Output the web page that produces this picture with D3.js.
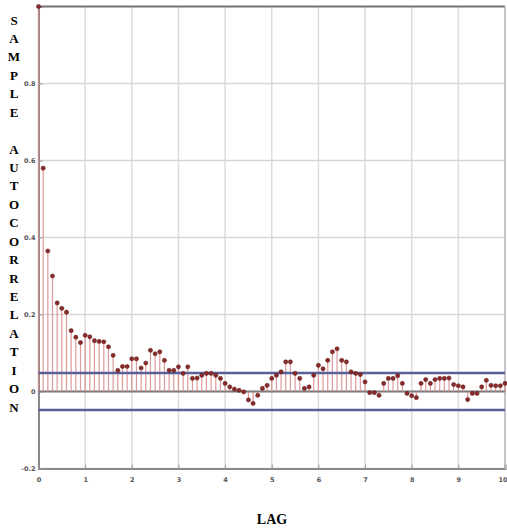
<!DOCTYPE html>
<html>
<head>
<meta charset="utf-8">
<script src="https://cdn.jsdelivr.net/npm/d3@7"></script>
<style>
  html, body { margin: 0; padding: 0; background: #fff; }
  svg { display: block; }
</style>
</head>
<body>
<svg id="chart" width="507" height="531"></svg>
<script>
// sample autocorrelation values, lag 0..100
const acf = [
  1.0, 0.58, 0.365, 0.30, 0.23, 0.216, 0.206, 0.158, 0.141, 0.127,
  0.146, 0.142, 0.132, 0.130, 0.129, 0.116, 0.094, 0.055, 0.065, 0.065,
  0.085, 0.085, 0.061, 0.074, 0.107, 0.098, 0.103, 0.081, 0.055, 0.055,
  0.064, 0.047, 0.064, 0.034, 0.035, 0.042, 0.047, 0.047, 0.042, 0.034,
  0.021, 0.012, 0.006, 0.003, -0.001, -0.022, -0.031, -0.010, 0.008, 0.016,
  0.034, 0.042, 0.051, 0.077, 0.077, 0.047, 0.034, 0.008, 0.012, 0.042,
  0.068, 0.059, 0.081, 0.103, 0.111, 0.081, 0.077, 0.051, 0.047, 0.044,
  0.025, -0.003, -0.003, -0.010, 0.021, 0.034, 0.034, 0.041, 0.021, -0.005,
  -0.011, -0.016, 0.021, 0.031, 0.021, 0.031, 0.034, 0.034, 0.035, 0.018,
  0.015, 0.012, -0.021, -0.005, -0.005, 0.012, 0.029, 0.016, 0.015, 0.015,
  0.021
];
const bounds = [0.048, -0.048];
const xTicks = [0, 10, 20, 30, 40, 50, 60, 70, 80, 90, 100];
const xTickLabels = ["0", "1", "2", "3", "4", "5", "6", "7", "8", "9", "10"];
const yTicks = [-0.2, 0, 0.2, 0.4, 0.6, 0.8, 1];
const yTickLabels = ["-0.2", "0", "0.2", "0.4", "0.6", "0.8", ""];
const yTitle = "SAMPLE AUTOCORRELATION";
const xTitle = "LAG";

const svg = d3.select("#chart");
const plotLeft = 38.5, plotRight = 505, plotTop = 6.5, plotBottom = 468.5;

const x = d3.scaleLinear().domain([0, 100]).range([plotLeft, plotRight]);
const y = d3.scaleLinear().domain([-0.2, 1]).range([plotBottom, plotTop]);

// grid
svg.append("g")
  .selectAll("line")
  .data(xTicks)
  .join("line")
  .attr("x1", d => x(d)).attr("x2", d => x(d))
  .attr("y1", plotTop).attr("y2", plotBottom)
  .attr("stroke", "#dcdcdc")
  .attr("stroke-width", 1.5);

svg.append("g")
  .selectAll("line")
  .data(yTicks)
  .join("line")
  .attr("x1", plotLeft).attr("x2", plotRight)
  .attr("y1", d => y(d)).attr("y2", d => y(d))
  .attr("stroke", "#d6d6d6")
  .attr("stroke-width", 1.5);

// axes
const xAxis = d3.axisBottom(x)
  .tickValues(xTicks)
  .tickFormat((d, i) => xTickLabels[i])
  .tickSize(-4)
  .tickPadding(9);

const yAxis = d3.axisLeft(y)
  .tickValues(yTicks)
  .tickFormat((d, i) => yTickLabels[i])
  .tickSize(-4)
  .tickPadding(3);

const gx = svg.append("g")
  .attr("transform", `translate(0,${plotBottom})`)
  .call(xAxis);
const gy = svg.append("g")
  .attr("transform", `translate(${plotLeft},0)`)
  .call(yAxis);

[gx, gy].forEach(g => {
  g.select(".domain").attr("stroke", "#8a8a8a").attr("stroke-width", 2);
  g.selectAll(".tick line").attr("stroke", "#999");
  g.selectAll(".tick text")
    .attr("fill", "#555")
    .style("font-family", "DejaVu Sans")
    .style("font-size", "6.5px")
    .style("font-weight", "bold");
});

// keep the last lag label inside the page
gx.selectAll(".tick text")
  .filter((d, i) => i === xTicks.length - 1)
  .attr("text-anchor", "end")
  .attr("dx", 2);

// top and right frame
svg.append("line")
  .attr("x1", plotLeft).attr("x2", plotRight)
  .attr("y1", plotTop).attr("y2", plotTop)
  .attr("stroke", "#777").attr("stroke-width", 2);
svg.append("line")
  .attr("x1", plotRight).attr("x2", plotRight)
  .attr("y1", plotTop).attr("y2", plotBottom)
  .attr("stroke", "#bbb").attr("stroke-width", 1.5);

// zero line
svg.append("line")
  .attr("x1", plotLeft).attr("x2", plotRight)
  .attr("y1", y(0)).attr("y2", y(0))
  .attr("stroke", "#7a7a7a").attr("stroke-width", 2);

// stems
svg.append("g")
  .selectAll("line")
  .data(acf)
  .join("line")
  .attr("x1", (d, i) => x(i)).attr("x2", (d, i) => x(i))
  .attr("y1", y(0)).attr("y2", d => y(d))
  .attr("stroke", "#d98a8a")
  .attr("stroke-width", 1.2)
  .attr("opacity", 0.85);

// confidence bounds
svg.append("g")
  .selectAll("line")
  .data(bounds)
  .join("line")
  .attr("x1", plotLeft).attr("x2", plotRight)
  .attr("y1", d => y(d)).attr("y2", d => y(d))
  .attr("stroke", "#5b5f99")
  .attr("stroke-width", 2.5);

// markers
svg.append("g")
  .selectAll("circle")
  .data(acf)
  .join("circle")
  .attr("cx", (d, i) => x(i))
  .attr("cy", d => y(d))
  .attr("r", 2.1)
  .attr("fill", "#8c2a2a")
  .attr("stroke", "#5a1a1a")
  .attr("stroke-width", 0.5);

// y title, one letter per line
svg.append("g")
  .selectAll("text")
  .data(yTitle.split(""))
  .join("text")
  .attr("x", 14)
  .attr("y", (d, i) => 24.5 + i * 18.43)
  .attr("text-anchor", "middle")
  .style("font-family", "Liberation Serif")
  .style("font-weight", "bold")
  .style("font-size", "13px")
  .text(d => d);

// x title
svg.append("text")
  .attr("x", 272)
  .attr("y", 524)
  .attr("text-anchor", "middle")
  .style("font-family", "Liberation Serif")
  .style("font-weight", "bold")
  .style("font-size", "14px")
  .text(xTitle);
</script>
</body>
</html>
